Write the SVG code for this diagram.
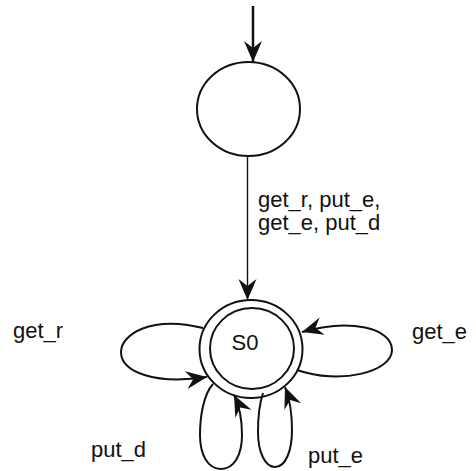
<svg xmlns="http://www.w3.org/2000/svg" width="476" height="471" viewBox="0 0 476 471">
<style>
.st{fill:none;stroke:#111;stroke-width:2}
.ed{fill:none;stroke:#111;stroke-width:2}
.lb{font-family:"Liberation Sans",Arial,sans-serif;font-size:22px;fill:#111}
</style>
<defs>
<marker id="ah" markerUnits="userSpaceOnUse" markerWidth="26" markerHeight="22" viewBox="-24 -11 26 22" refX="0" refY="0" orient="auto">
<path d="M0,0 L-21,-9 L-14,0 L-21,9 Z" fill="#111"/>
</marker>
</defs>
<rect width="476" height="471" fill="#fff"/>
<g id="init">
<ellipse class="st" cx="248.5" cy="109" rx="51.5" ry="47"/>
</g>
<g id="S0">
<ellipse class="st" cx="251" cy="349" rx="51.5" ry="49"/>
<ellipse class="st" cx="252" cy="348.5" rx="42" ry="40.5"/>
<text class="lb" x="245" y="350" text-anchor="middle" font-size="21">S0</text>
</g>
<g id="connectors">
<line x1="253" y1="6" x2="253" y2="62" stroke="#111" stroke-width="2.5" marker-end="url(#ah)"/>
<line x1="247.5" y1="156" x2="247.5" y2="300" stroke="#111" stroke-width="1.4" marker-end="url(#ah)"/>
<path class="ed" d="M203,328 C150,315 121,335 121,352 C121,372 155,385 207,377" marker-end="url(#ah)"/>
<path class="ed" d="M297,370 C340,385 392,372 392,350 C392,328 350,318 302,332" marker-end="url(#ah)"/>
<path class="ed" d="M213,384 C203,395 200,418 200,435 C200,455 208,469 221,469 C234,469 242,455 242,435 C242,418 238,403 234,395" marker-end="url(#ah)"/>
<path class="ed" d="M263,393 C259,405 258,420 258,432 C258,452 265,467 275,467 C286,467 292,450 292,430 C292,412 289,397 285,387" marker-end="url(#ah)"/>
</g>
<g id="labels">
<text class="lb" x="258" y="207" font-size="22.5">get_r, put_e,</text>
<text class="lb" x="258" y="230" font-size="22.5">get_e, put_d</text>
<text class="lb" x="13" y="338">get_r</text>
<text class="lb" x="412" y="339">get_e</text>
<text class="lb" x="91" y="457">put_d</text>
<text class="lb" x="308" y="463">put_e</text>
</g>
</svg>
